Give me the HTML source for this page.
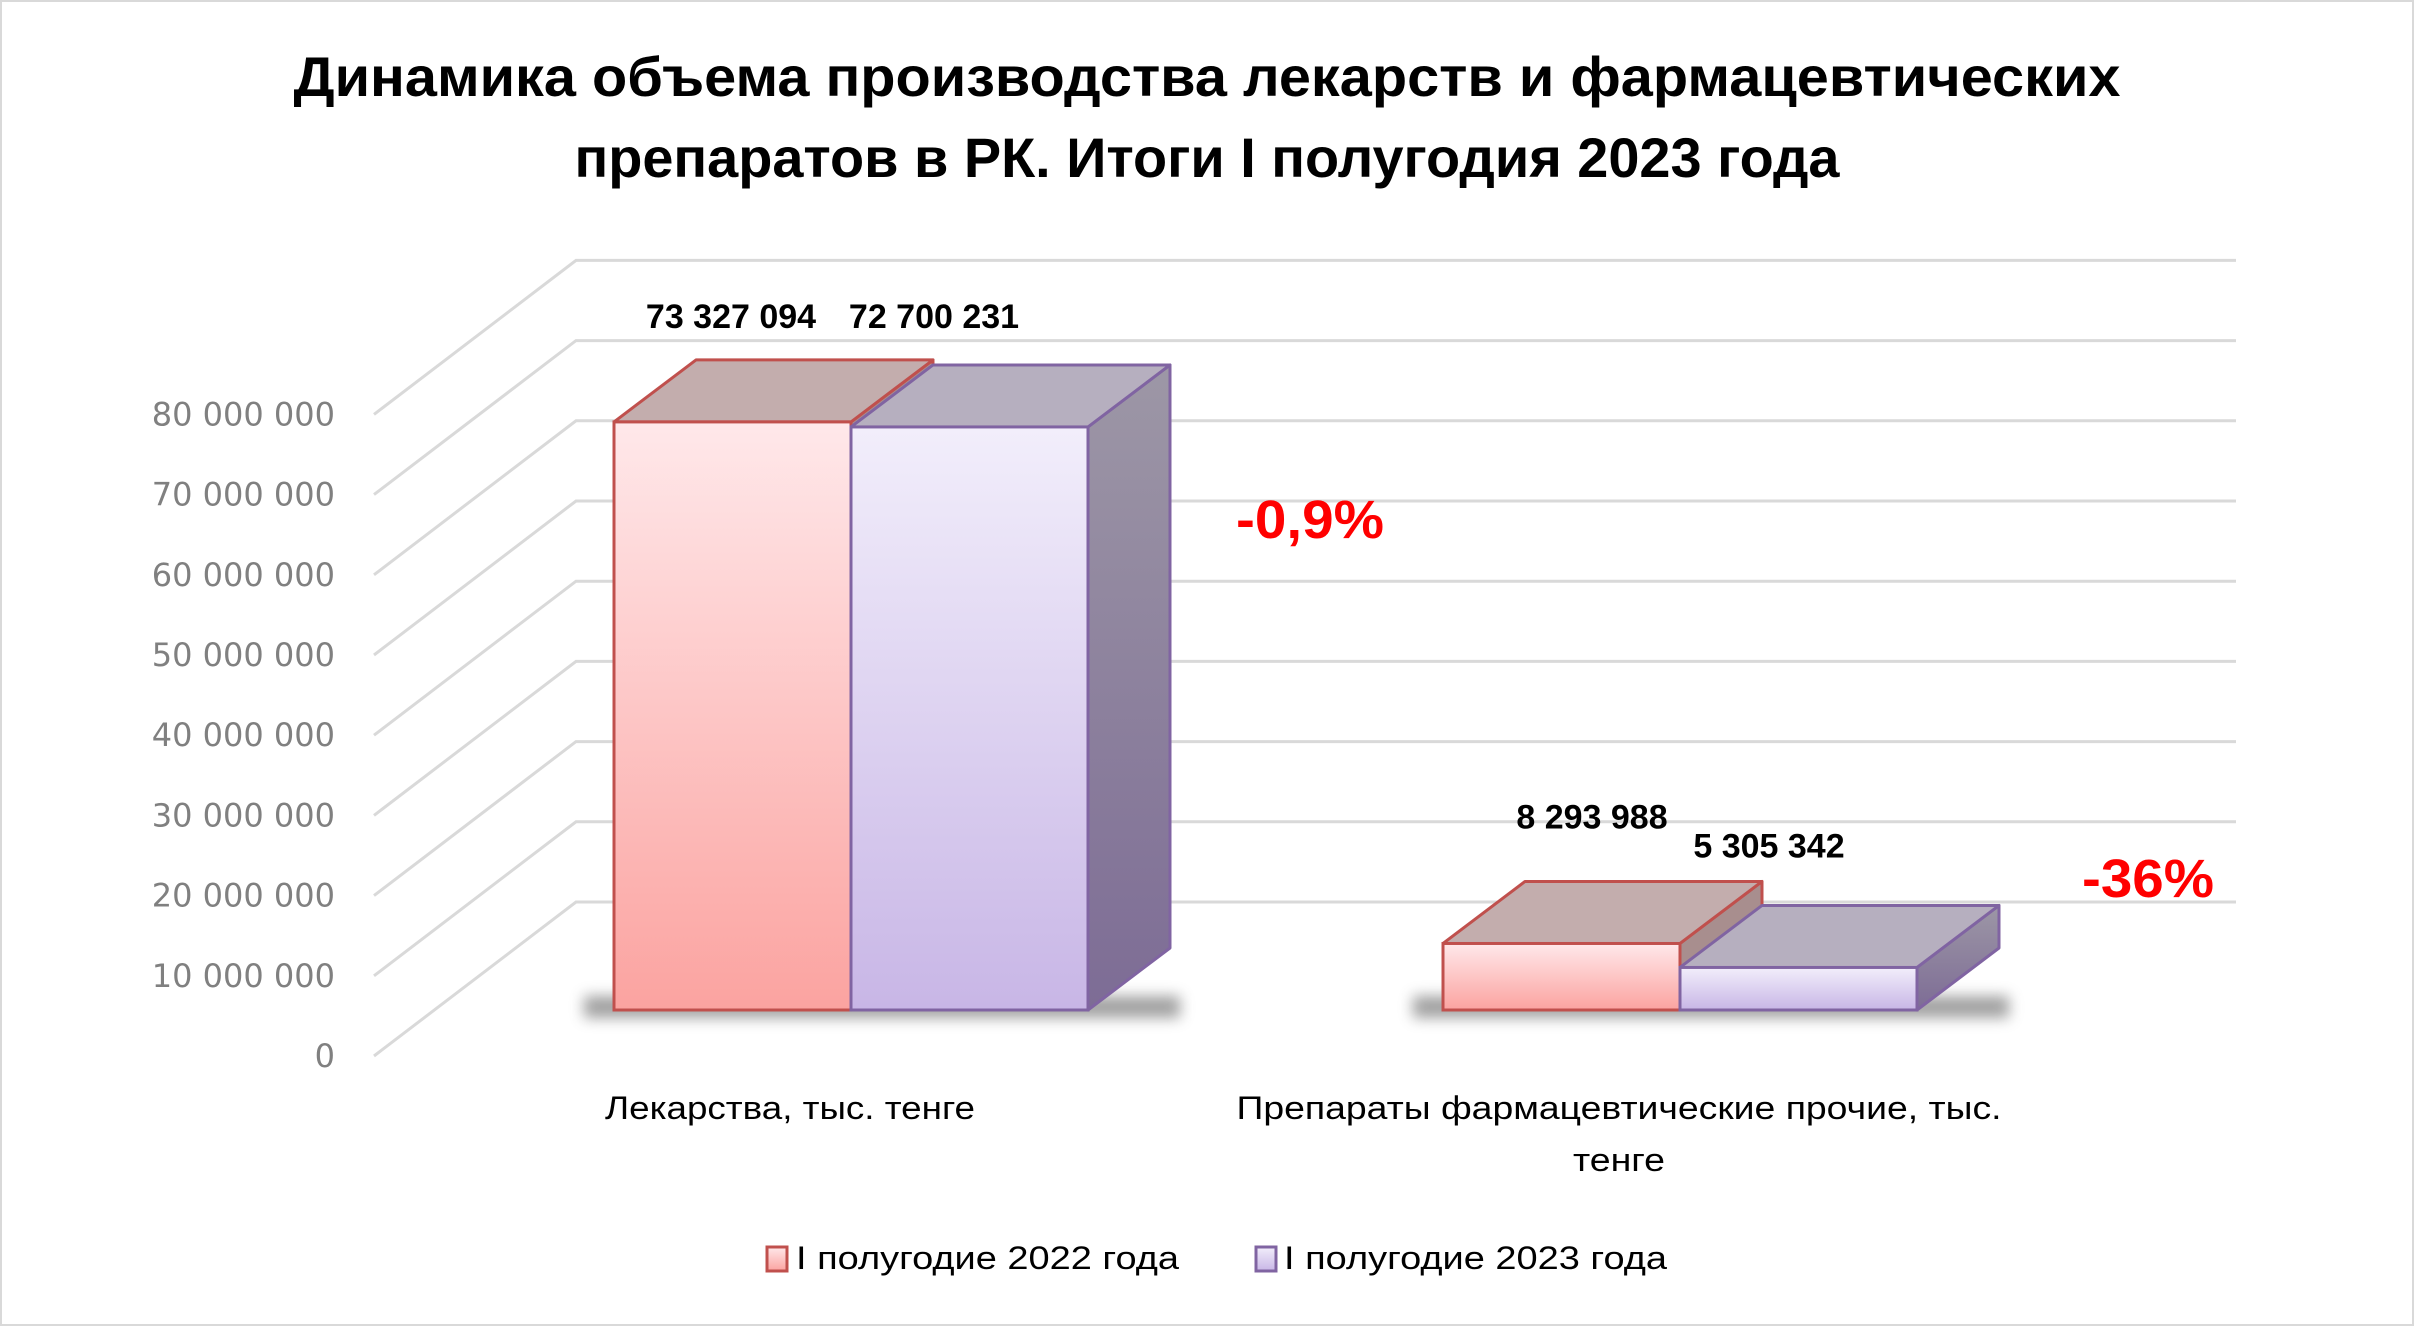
<!DOCTYPE html>
<html><head><meta charset="utf-8"><style>
html,body{margin:0;padding:0;background:#fff;}
svg{display:block;}
text{font-family:"Liberation Sans","DejaVu Sans",sans-serif;}
</style></head><body>
<svg id="chart" width="2414" height="1326" viewBox="0 0 2414 1326" xmlns="http://www.w3.org/2000/svg">
<defs>
<linearGradient id="gRed" x1="0" y1="0" x2="0" y2="1"><stop offset="0" stop-color="#ffe8ea"/><stop offset="1" stop-color="#fba3a0"/></linearGradient>
<linearGradient id="gPur" x1="0" y1="0" x2="0" y2="1"><stop offset="0" stop-color="#f2eefb"/><stop offset="1" stop-color="#c8b6e6"/></linearGradient>
<linearGradient id="gSide" x1="0" y1="0" x2="0" y2="1"><stop offset="0" stop-color="#9d97a6"/><stop offset="1" stop-color="#7d6c95"/></linearGradient>
<filter id="blur" x="-20%" y="-200%" width="140%" height="500%"><feGaussianBlur stdDeviation="7"/></filter>
</defs>
<rect x="1" y="1" width="2412" height="1324" fill="#fff" stroke="#d9d9d9" stroke-width="2"/>
<text x="1207" y="96" text-anchor="middle" font-size="56" font-weight="bold" textLength="1827" lengthAdjust="spacingAndGlyphs">Динамика объема производства лекарств и фармацевтических</text>
<text x="1207" y="177" text-anchor="middle" font-size="56" font-weight="bold" textLength="1265" lengthAdjust="spacingAndGlyphs">препаратов в РК. Итоги I полугодия 2023 года</text>
<g id="grid"></g>
<g id="bars"></g>
<g id="labels"></g>
<text x="790" y="1119" text-anchor="middle" font-size="32" textLength="370" lengthAdjust="spacingAndGlyphs">Лекарства, тыс. тенге</text>
<text x="1619" y="1119" text-anchor="middle" font-size="32" textLength="765" lengthAdjust="spacingAndGlyphs">Препараты фармацевтические прочие, тыс.</text>
<text x="1619" y="1171" text-anchor="middle" font-size="32" textLength="92" lengthAdjust="spacingAndGlyphs">тенге</text>
<text x="1310" y="538" text-anchor="middle" font-size="54" font-weight="bold" fill="#ff0000" textLength="148" lengthAdjust="spacingAndGlyphs">-0,9%</text>
<text x="2148" y="897" text-anchor="middle" font-size="54" font-weight="bold" fill="#ff0000" textLength="132" lengthAdjust="spacingAndGlyphs">-36%</text>
<g>
<rect x="767" y="1247" width="20" height="24" fill="url(#gRed)" stroke="#c0504d" stroke-width="3"/>
<text x="796" y="1269" font-size="32" textLength="383" lengthAdjust="spacingAndGlyphs">I полугодие 2022 года</text>
<rect x="1256" y="1247" width="20" height="24" fill="url(#gPur)" stroke="#8064a2" stroke-width="3"/>
<text x="1284" y="1269" font-size="32" textLength="383" lengthAdjust="spacingAndGlyphs">I полугодие 2023 года</text>
</g>
</svg>
<script>
const categories = ["Лекарства, тыс. тенге", "Препараты фармацевтические прочие, тыс. тенге"];
const series2022 = [73327094, 8293988];
const series2023 = [72700231, 5305342];
const valueLabels2022 = ["73 327 094", "8 293 988"];
const valueLabels2023 = ["72 700 231", "5 305 342"];
const tickValues = [0, 10000000, 20000000, 30000000, 40000000, 50000000, 60000000, 70000000, 80000000];
const tickLabels = ["0", "10 000 000", "20 000 000", "30 000 000", "40 000 000", "50 000 000", "60 000 000", "70 000 000", "80 000 000"];

const NS = "http://www.w3.org/2000/svg";
function mk(tag, attrs, parent) { const e = document.createElementNS(NS, tag); for (const k in attrs) e.setAttribute(k, attrs[k]); parent.appendChild(e); return e; }
const pxPer = 80.2 / 10000000;
function yFront(v) { return 1056 - v * pxPer; }
function yBack(v) { return 902 - v * pxPer; }
function yBar(v) { return 1010 - v * pxPer; }
const gridG = document.getElementById('grid');
const barsG = document.getElementById('bars');
const labG = document.getElementById('labels');

tickValues.forEach((v, i) => {
  const p = mk('polyline', { points: `374,${yFront(v)} 576,${yBack(v)} 2236,${yBack(v)}`, fill: 'none', stroke: '#d9d9d9', 'stroke-width': 3 }, gridG);
  
  
  const t = mk('text', { x: 335, y: yFront(v) + 11, 'text-anchor': 'end', 'font-size': 32, fill: '#808080', style: 'font-family:"DejaVu Sans",sans-serif' }, gridG);
  t.textContent = tickLabels[i];
  
  
});

const groupLeft = [614, 1443];
const barW = 237, DX = 82, DY = -62;
const labelDx = [117, 83, 149, 89];
const labelDy = [-106, -111, -127, -122];
const base = yBar(0);

categories.forEach((c, gi) => {
  const x0 = groupLeft[gi];
  const sh = mk('rect', { x: x0 - 30, y: base - 14, width: 2 * barW + DX + 40, height: 22, fill: '#555', opacity: 0.55, filter: 'url(#blur)' }, barsG);
  
  
  const specs = [
    { v: series2022[gi], x: x0, front: 'url(#gRed)', top: '#c3adad', side: '#a88e8e', stroke: '#c0504d', lab: valueLabels2022[gi], name: 'bar-2022-' + gi, li: gi * 2 },
    { v: series2023[gi], x: x0 + barW, front: 'url(#gPur)', top: '#b6afbf', side: 'url(#gSide)', stroke: '#8064a2', lab: valueLabels2023[gi], name: 'bar-2023-' + gi, li: gi * 2 + 1 }
  ];
  specs.forEach(s => {
    const yt = yBar(s.v);
    const g = mk('g', {}, barsG);
    
    
    mk('polygon', { points: `${s.x + barW},${yt} ${s.x + barW + DX},${yt + DY} ${s.x + barW + DX},${base + DY} ${s.x + barW},${base}`, fill: s.side, stroke: s.stroke, 'stroke-width': 3, 'stroke-linejoin': 'round' }, g);
    mk('polygon', { points: `${s.x},${yt} ${s.x + DX},${yt + DY} ${s.x + barW + DX},${yt + DY} ${s.x + barW},${yt}`, fill: s.top, stroke: s.stroke, 'stroke-width': 3, 'stroke-linejoin': 'round' }, g);
    mk('rect', { x: s.x, y: yt, width: barW, height: base - yt, fill: s.front, stroke: s.stroke, 'stroke-width': 3 }, g);
    const t = mk('text', { x: s.x + labelDx[s.li], y: yt + labelDy[s.li] + 12, 'text-anchor': 'middle', 'font-size': 34, 'font-weight': 'bold', fill: '#000' }, labG);
    t.textContent = s.lab;
    
    
  });
});
</script>
</body></html>
